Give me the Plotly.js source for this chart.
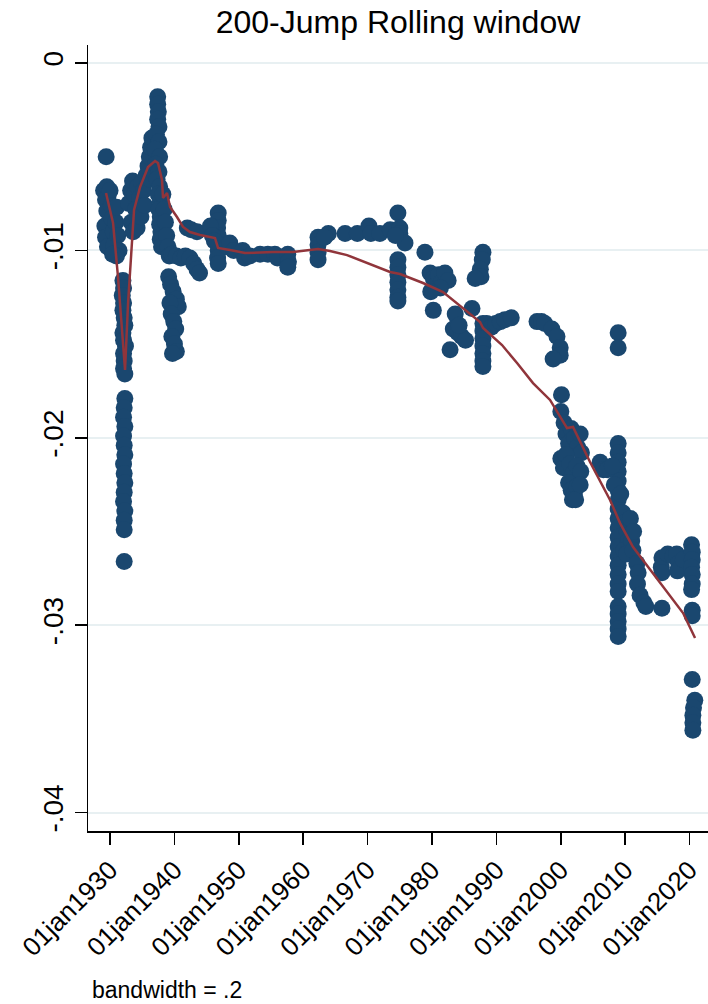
<!DOCTYPE html>
<html>
<head>
<meta charset="utf-8">
<script src="https://cdn.plot.ly/plotly-3.0.1.min.js"></script>
<style>html,body{margin:0;padding:0;background:#fff;}#chart{width:708px;height:1004px;}</style>
</head>
<body>
<div id="chart"></div>
<script>
// Scatter: jump date (decimal year) and rolling estimate
const jumpDates = [
  1929.4,1929.0,1929.5,1929.7,1929.3,1929.5,1929.2,1929.3,1929.6,1930.0,1930.2,1930.3,1930.5,1930.6,1930.9,1931.0,1931.2,1931.4,1931.0,1930.4,
  1932.0,1932.1,1931.9,1932.1,1932.0,1932.2,1932.3,1932.0,1932.1,1932.4,1932.1,1932.2,1932.1,1932.3,
  1932.3,1932.2,1932.1,1932.3,1932.1,1932.2,1932.3,1932.1,1932.2,1932.3,1932.2,1932.1,1932.3,1932.2,1932.2,1932.2,
  1932.9,1933.2,1933.5,1933.8,1934.0,1934.3,1934.6,1934.9,1935.2,1933.3,1933.6,1934.2,1934.8,1935.4,1935.6,1935.9,1936.1,1936.3,1936.5,1936.2,1936.8,
  1937.4,1937.4,1937.5,1937.4,1937.6,1937.2,1937.6,1937.0,1937.7,1937.1,1937.6,1937.3,1937.7,1937.5,1937.8,1937.6,1937.8,1937.7,1937.9,1937.8,1938.0,
  1938.2,1938.4,1938.6,1938.8,1939.0,1939.2,
  1939.1,1939.4,1939.8,1940.3,1940.6,1939.3,1939.5,1939.9,1940.2,1939.6,1940.0,1940.3,1939.7,
  1939.6,1940.3,1941.0,1941.7,1942.4,1943.0,1943.5,1943.9,1942.0,1942.6,1943.5,
  1946.8,1946.8,1946.7,1946.8,1946.6,1946.8,1946.7,1946.8,1945.6,1945.9,1946.2,
  1948.2,1948.6,1949.2,1950.6,1950.9,1951.7,1953.3,1954.5,1955.6,1956.0,1957.6,1957.7,1957.6,
  1962.3,1962.3,1962.3,1962.3,1963.9,1963.3,
  1966.5,1968.4,1970.2,1970.5,1971.9,1973.5,1974.7,1975.0,1975.0,1975.8,1974.3,
  1974.7,1974.7,1974.7,1974.7,1974.7,1974.7,1974.7,
  1978.9,1979.7,1980.2,1980.5,1981.0,1981.5,1982.0,1982.5,1981.3,1979.8,1980.2,
  1983.6,1983.3,1984.0,1984.6,1985.2,1984.2,1982.8,1986.2,
  1987.9,1987.9,1987.9,1987.9,1987.9,1987.9,1987.9,1987.9,1987.8,1987.5,1987.6,1986.7,
  1988.5,1989.2,1989.9,1990.6,1991.3,1992.3,
  1996.3,1997.0,1997.5,1998.6,1999.4,1999.9,1999.9,1998.8,
  2000.1,2000.0,2000.5,2000.8,2001.2,2001.6,2002.1,2002.6,2003.0,2003.2,2000.0,2000.4,2000.8,2001.4,2001.9,2002.5,2003.1,2001.2,2001.6,2002.1,2002.5,2001.8,2002.3,2003.0,
  2008.9,2008.9,2008.9,2008.9,2008.9,2008.9,2008.9,2008.9,2008.9,2008.9,2008.9,2008.9,2008.9,2008.9,2008.9,2008.9,2008.9,
  2008.9,2008.9,2008.9,2008.9,2008.9,2008.9,2008.9,
  2006.1,2006.6,2007.2,2008.0,2008.3,2009.3,2009.6,2010.0,2010.3,2010.5,2009.8,2010.2,2011.0,2011.2,2010.8,2011.3,
  2011.8,2012.0,2011.9,2012.3,2012.9,2013.2,
  2015.7,2015.6,2015.7,2015.7,2016.6,
  2017.4,2018.0,2018.3,2018.1,2019.0,
  2020.3,2020.4,2020.4,2020.3,2020.4,2020.4,2020.3,2020.4,2020.4,
  2020.4,2020.8,2020.6,2020.5,2020.5,2020.5
];
const jumpValues = [
  -0.0050,-0.0068,-0.0066,-0.0071,-0.0073,-0.0079,-0.0087,-0.0093,-0.0098,-0.0068,-0.0076,-0.0083,-0.0090,-0.0097,-0.0085,-0.0077,-0.0092,-0.0100,-0.0103,-0.0102,
  -0.0116,-0.0120,-0.0124,-0.0128,-0.0132,-0.0136,-0.0140,-0.0144,-0.0148,-0.0151,-0.0155,-0.0159,-0.0163,-0.0166,
  -0.0179,-0.0184,-0.0189,-0.0194,-0.0199,-0.0204,-0.0209,-0.0214,-0.0219,-0.0224,-0.0229,-0.0234,-0.0239,-0.0244,-0.0249,-0.0266,
  -0.0075,-0.0068,-0.0063,-0.0070,-0.0078,-0.0066,-0.0072,-0.0064,-0.0068,-0.0085,-0.0090,-0.0088,-0.0082,-0.0076,-0.0060,-0.0055,-0.0050,-0.0045,-0.0040,-0.0062,-0.0058,
  -0.0018,-0.0022,-0.0026,-0.0030,-0.0034,-0.0038,-0.0042,-0.0046,-0.0050,-0.0054,-0.0058,-0.0062,-0.0066,-0.0070,-0.0074,-0.0078,-0.0082,-0.0086,-0.0090,-0.0094,-0.0098,
  -0.0070,-0.0078,-0.0085,-0.0092,-0.0098,-0.0103,
  -0.0114,-0.0118,-0.0122,-0.0126,-0.0130,-0.0128,-0.0134,-0.0138,-0.0142,-0.0146,-0.0150,-0.0154,-0.0155,
  -0.0102,-0.0103,-0.0104,-0.0103,-0.0104,-0.0107,-0.0110,-0.0112,-0.0088,-0.0089,-0.0090,
  -0.0080,-0.0084,-0.0088,-0.0092,-0.0096,-0.0100,-0.0104,-0.0107,-0.0087,-0.0092,-0.0095,
  -0.0098,-0.0096,-0.0100,-0.0100,-0.0104,-0.0103,-0.0102,-0.0102,-0.0102,-0.0104,-0.0102,-0.0106,-0.0109,
  -0.0093,-0.0097,-0.0101,-0.0105,-0.0091,-0.0093,
  -0.0091,-0.0091,-0.0087,-0.0091,-0.0091,-0.0089,-0.0080,-0.0088,-0.0091,-0.0096,-0.0092,
  -0.0105,-0.0109,-0.0113,-0.0117,-0.0121,-0.0125,-0.0127,
  -0.0101,-0.0112,-0.0115,-0.0119,-0.0113,-0.0117,-0.0112,-0.0116,-0.0120,-0.0122,-0.0132,
  -0.0134,-0.0142,-0.0144,-0.0146,-0.0148,-0.0140,-0.0153,-0.0131,
  -0.0139,-0.0143,-0.0147,-0.0151,-0.0155,-0.0159,-0.0162,-0.0101,-0.0105,-0.0110,-0.0114,-0.0115,
  -0.0139,-0.0141,-0.0139,-0.0138,-0.0137,-0.0136,
  -0.0138,-0.0138,-0.0139,-0.0142,-0.0146,-0.0152,-0.0156,-0.0158,
  -0.0177,-0.0186,-0.0192,-0.0198,-0.0203,-0.0195,-0.0200,-0.0205,-0.0198,-0.0208,-0.0211,-0.0216,-0.0209,-0.0214,-0.0219,-0.0215,-0.0218,-0.0224,-0.0228,-0.0230,-0.0226,-0.0233,-0.0233,-0.0225,
  -0.0203,-0.0208,-0.0213,-0.0218,-0.0223,-0.0228,-0.0233,-0.0238,-0.0243,-0.0248,-0.0253,-0.0258,-0.0263,-0.0268,-0.0273,-0.0278,-0.0282,
  -0.0290,-0.0294,-0.0298,-0.0302,-0.0306,-0.0144,-0.0152,
  -0.0213,-0.0217,-0.0217,-0.0215,-0.0225,-0.0230,-0.0240,-0.0245,-0.0250,-0.0255,-0.0260,-0.0262,-0.0255,-0.0260,-0.0243,-0.0250,
  -0.0267,-0.0272,-0.0278,-0.0284,-0.0288,-0.0290,
  -0.0264,-0.0269,-0.0272,-0.0291,-0.0262,
  -0.0263,-0.0262,-0.0267,-0.0271,-0.0265,
  -0.0257,-0.0261,-0.0265,-0.0269,-0.0273,-0.0278,-0.0281,-0.0292,-0.0295,
  -0.0329,-0.0340,-0.0344,-0.0348,-0.0352,-0.0356
];

// Lowess smoother (bandwidth = .2)
const lowessDates = [1929.38,1930.47,1931.24,1931.86,1932.33,1932.80,1933.42,1933.73,1934.66,1935.90,1936.99,1937.45,1938.07,1938.23,1938.85,1939.32,1940.40,1941.34,1942.42,1943.98,1946.30,1946.77,1948.63,1950.96,1955.31,1958.42,1962.30,1964.16,1966.80,1969.91,1973.48,1975.03,1978.60,1981.71,1983.26,1985.43,1987.45,1987.92,1990.87,1993.20,1995.68,1998.32,1999.88,2000.96,2001.89,2004.53,2007.64,2009.19,2011.21,2012.76,2015.87,2018.98,2020.84];
const lowessValues = [-0.00694,-0.00854,-0.01142,-0.01425,-0.01638,-0.01281,-0.00982,-0.00784,-0.00662,-0.00555,-0.00523,-0.00534,-0.00624,-0.00720,-0.00694,-0.00768,-0.00822,-0.00875,-0.00902,-0.00918,-0.00934,-0.00987,-0.00998,-0.01014,-0.01009,-0.01009,-0.00993,-0.01003,-0.01025,-0.01067,-0.01115,-0.01126,-0.01174,-0.01222,-0.01265,-0.01329,-0.01382,-0.01414,-0.01505,-0.01601,-0.01708,-0.01798,-0.01889,-0.01948,-0.01942,-0.02129,-0.02332,-0.02455,-0.02583,-0.02652,-0.02796,-0.02935,-0.03068];

const xTickVals = [1930,1940,1950,1960,1970,1980,1990,2000,2010,2020];
const xTickText = ['01jan1930','01jan1940','01jan1950','01jan1960','01jan1970','01jan1980','01jan1990','01jan2000','01jan2010','01jan2020'];
const yTickVals = [-0.04,-0.03,-0.02,-0.01,0];
const yTickText = ['-.04','-.03','-.02','-.01','0'];

const FONT = 'Liberation Sans, Arial, Helvetica, sans-serif';

const traces = [
  {x: jumpDates, y: jumpValues, type: 'scatter', mode: 'markers',
   marker: {color: '#1a476f', size: 17, line: {width: 0}}, hoverinfo: 'skip'},
  {x: lowessDates, y: lowessValues, type: 'scatter', mode: 'lines',
   line: {color: '#90353b', width: 2.5}, hoverinfo: 'skip'}
];

const layout = {
  width: 708, height: 1004,
  margin: {l: 88, r: 0, t: 45, b: 173},
  paper_bgcolor: '#ffffff', plot_bgcolor: '#ffffff',
  showlegend: false,
  font: {family: FONT, color: '#000000'},
  title: {text: '200-Jump Rolling window', font: {family: FONT, size: 32, color: '#000'},
          x: 0.5, xref: 'paper', xanchor: 'center', y: 1 - 22/1004, yref: 'container', yanchor: 'middle'},
  xaxis: {range: [1926.58, 2022.85], tickmode: 'array', tickvals: xTickVals, ticktext: xTickText,
          tickangle: -45, tickfont: {family: FONT, size: 26, color: '#000'},
          showgrid: false, zeroline: false, showline: true, linecolor: '#000', linewidth: 1.5,
          ticks: 'outside', ticklen: 12, tickwidth: 1.5, tickcolor: '#000'},
  yaxis: {range: [-0.04098, 0.00096], tickmode: 'array', tickvals: yTickVals, ticktext: yTickText,
          tickangle: -90, tickfont: {family: FONT, size: 28, color: '#000'},
          showgrid: true, gridcolor: '#e8f0f2', gridwidth: 2, zeroline: false,
          showline: true, linecolor: '#000', linewidth: 1.5,
          ticks: 'outside', ticklen: 12, tickwidth: 1.5, tickcolor: '#000'},
  annotations: [
    {text: 'bandwidth = .2', xref: 'paper', yref: 'paper', x: 0.004, y: -(990-831)/786,
     xanchor: 'left', yanchor: 'middle', showarrow: false, font: {family: FONT, size: 23, color: '#000'}}
  ]
};

Plotly.newPlot('chart', traces, layout, {displayModeBar: false, staticPlot: true});
</script>
</body>
</html>
